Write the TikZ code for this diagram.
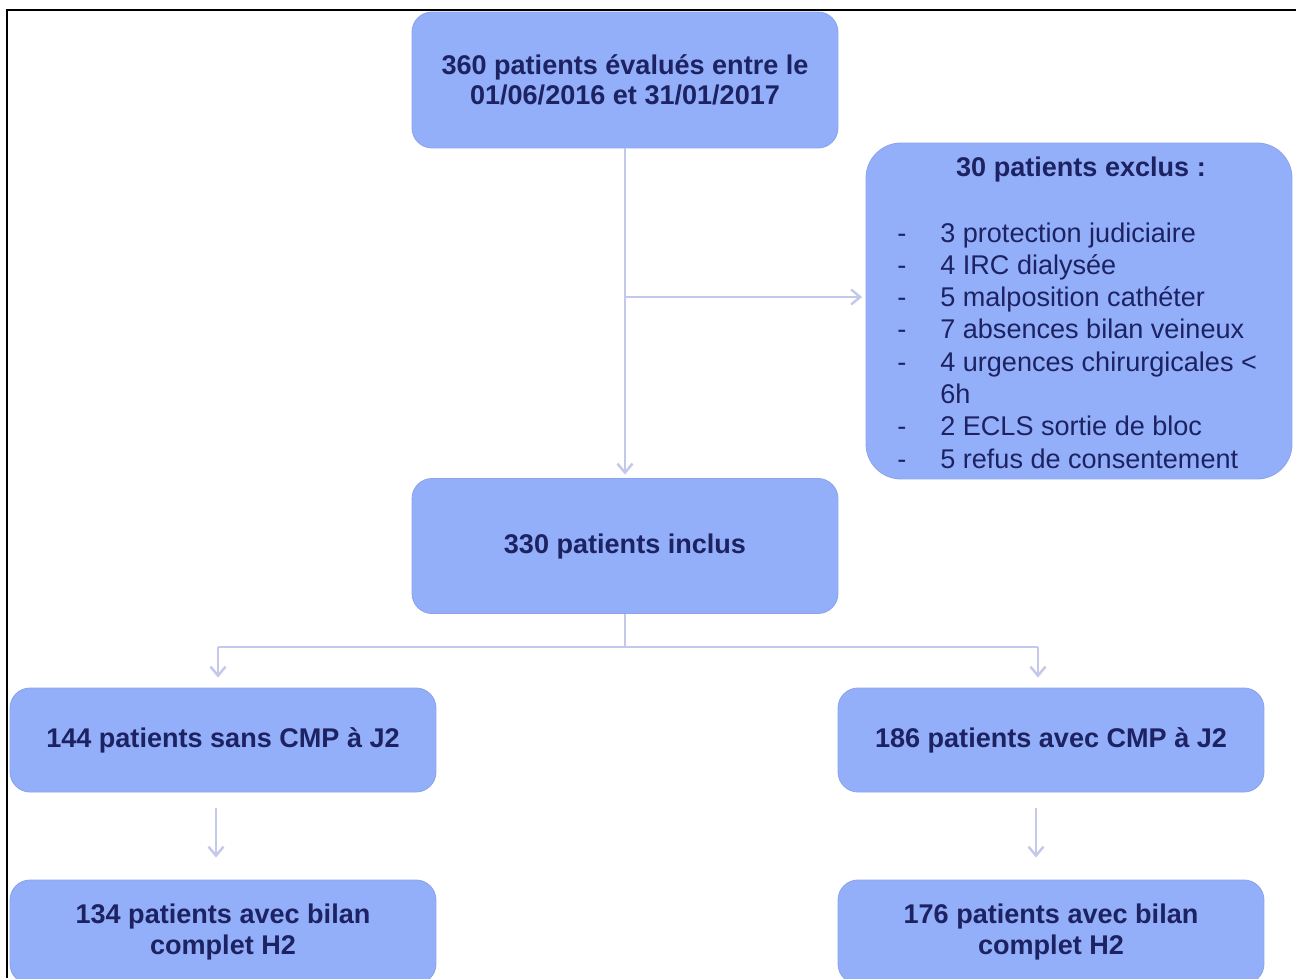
\documentclass[tikz,border=0pt]{standalone}
\usepackage{fontspec}
\setmainfont{Liberation Sans}
\usetikzlibrary{arrows.meta}
\definecolor{boxblue}{HTML}{94AFF9}
\definecolor{boxedge}{HTML}{8CA4EC}
\definecolor{ink}{HTML}{1C2262}
\definecolor{linkgrey}{HTML}{C4C8EA}

\begin{document}
\begin{tikzpicture}[x=0.02cm,y=-0.02cm,
  every node/.style={text=ink, font=\fontsize{15.4}{17.2}\selectfont},
  stepbox/.style={draw=boxedge, fill=boxblue, line width=0.5pt, rounded corners=0.4cm,
    minimum width=8.52cm, align=center, font=\fontsize{15.4}{17.2}\selectfont\bfseries},
  flow/.style={draw=linkgrey, line width=1.4pt, -{Straight Barb[length=1.8mm,width=3mm]}}]
  % Page limits and frame
  \useasboundingbox (0,0) rectangle (1296,978);
  \clip (0,0) rectangle (1296,978);
  \draw[line width=1.4pt] (1296,10) -- (7,10) -- (7,978);
  % Boxes
  \node[stepbox, minimum height=2.72cm] (evalues) at (625,80) {360 patients évalués entre le\\01/06/2016 et 31/01/2017};
  \node[stepbox, minimum height=6.72cm, rounded corners=0.7cm] (exclus) at (1079,311) {};
  \node[font=\fontsize{15.4}{17.2}\selectfont\bfseries] (exclusTitle) at (1081,169) {30 patients exclus :};
  \node[anchor=base west, inner sep=0pt, font=\fontsize{15.4}{18.4}\selectfont] (exclusList) at (897,242)
    {\begin{tabular}[t]{@{}p{0.86cm}@{}l@{}}
      - & 3 protection judiciaire\\
      - & 4 IRC dialysée\\
      - & 5 malposition cathéter\\
      - & 7 absences bilan veineux\\
      - & 4 urgences chirurgicales <\\
        & 6h\\
      - & 2 ECLS sortie de bloc\\
      - & 5 refus de consentement
    \end{tabular}};
  \node[stepbox, minimum height=2.7cm] (inclus) at (625,546) {330 patients inclus};
  \node[stepbox, minimum height=2.08cm] (sansCMP) at (223,740) {144 patients sans CMP à J2};
  \node[stepbox, minimum height=2.08cm] (avecCMP) at (1051,740) {186 patients avec CMP à J2};
  \node[stepbox, minimum height=2.08cm] (bilanSans) at (223,932) {134 patients avec bilan\\complet H2};
  \node[stepbox, minimum height=2.08cm] (bilanAvec) at (1051,932) {176 patients avec bilan\\complet H2};
  % Connectors
  \coordinate (branch) at (625,297);
  \coordinate (split) at (625,647);
  \coordinate (splitL) at (218,647);
  \coordinate (splitR) at (1038,647);
  \draw[flow, shorten >=2pt] (evalues.south) -- (inclus.north);
  \draw[flow, shorten >=2pt] (branch) -- (branch -| exclus.west);
  \draw[draw=linkgrey, line width=1.4pt] (inclus.south) -- (split);
  \draw[draw=linkgrey, line width=1.4pt] (splitL) -- (splitR);
  \draw[flow, shorten >=0.2cm] (splitL) -- (splitL |- sansCMP.north);
  \draw[flow, shorten >=0.2cm] (splitR) -- (splitR |- avecCMP.north);
  \draw[flow, shorten <=0.32cm, shorten >=0.44cm] ([xshift=-0.14cm]sansCMP.south) -- ([xshift=-0.14cm]bilanSans.north);
  \draw[flow, shorten <=0.32cm, shorten >=0.44cm] ([xshift=-0.3cm]avecCMP.south) -- ([xshift=-0.3cm]bilanAvec.north);
\end{tikzpicture}
\end{document}
